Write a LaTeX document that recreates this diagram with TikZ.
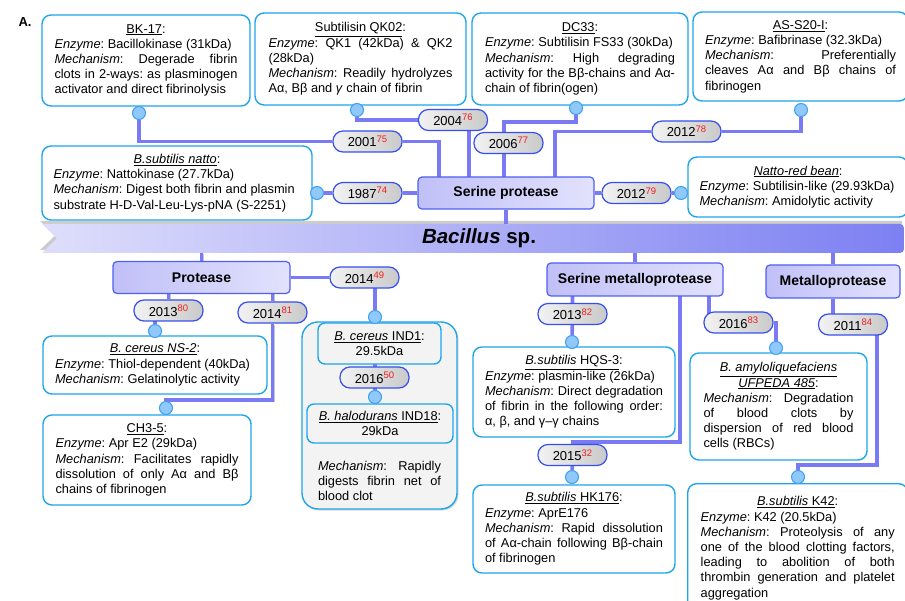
\documentclass[tikz,border=0pt]{standalone}
\usepackage{fontspec}
\setmainfont{Liberation Sans}
\usetikzlibrary{shadows}
\setlength{\parindent}{0pt}
\frenchspacing

\definecolor{boxcyan}{RGB}{30,165,235}
\definecolor{linkblue}{RGB}{122,122,244}
\definecolor{yearrim}{RGB}{55,80,235}
\definecolor{grouprim}{RGB}{80,95,240}
\definecolor{groupA}{RGB}{192,192,248}
\definecolor{groupB}{RGB}{226,226,253}
\definecolor{dotfill}{RGB}{145,200,250}
\definecolor{dotrim}{RGB}{60,160,240}
\definecolor{bandA}{RGB}{222,222,251}
\definecolor{bandB}{RGB}{125,128,242}
\definecolor{potgray}{RGB}{243,243,243}
\definecolor{refred}{RGB}{240,30,30}

\pgfdeclarelayer{bg}
\pgfdeclarelayer{wires}
\pgfsetlayers{bg,wires,main}

% one line of a box: centred title, stretched line, plain line
\newcommand{\wsp}{\spaceskip=.278em\xspaceskip=.278em\relax}
\newcommand{\ttl}[1]{\makebox[\hsize]{\wsp #1}}
\newcommand{\jst}[1]{\makebox[\hsize][s]{\spaceskip=.278em plus 1fil\xspaceskip=\spaceskip #1}}
\newcommand{\lft}[1]{\makebox[\hsize][l]{\wsp #1}}
\newcommand{\yr}[2]{#1\raisebox{4.5pt}{\fontsize{9.5}{9.5}\selectfont\textcolor{refred}{#2}}}

\begin{document}
\begin{tikzpicture}[x=1pt, y=-1pt,
  info/.style={draw=boxcyan, line width=1.4pt, rounded corners=9pt, fill=white,
    inner sep=3pt, align=left, font=\fontsize{12.8}{15.2}\selectfont},
  group/.style={draw=grouprim, line width=1.2pt, rounded corners=4pt,
    left color=groupA, right color=groupB, inner sep=0pt,
    font=\bfseries\fontsize{14}{14}\selectfont},
  year/.style={draw=yearrim, line width=1.2pt, rounded corners=10pt,
    left color=gray!10, right color=gray!42, minimum width=69pt,
    minimum height=21pt, inner sep=0pt, font=\fontsize{13}{13}\selectfont},
  dot/.style={circle, draw=dotrim, fill=dotfill, line width=1pt,
    minimum size=13pt, inner sep=0pt},
  link/.style={draw=linkblue, line width=3.6pt,
    preaction={draw=gray!45, transform canvas={shift={(1.2pt,-1.2pt)}}}}]
\useasboundingbox (0,0) rectangle (905,601);
\clip (0,0) rectangle (905,601);

\begin{pgfonlayer}{bg}
% Bacillus band
\fill[gray!40] (40,221) -- (902,221) -- (902,250) -- (40,250) -- (55,235.5) -- cycle;
\shade[left color=bandA, right color=bandB] (42,224) [rounded corners=4pt] -- (904,224)
  -- (904,253) [sharp corners] -- (42,253) -- (57,238.5) -- cycle;
\node[minimum width=862pt, minimum height=29pt, inner sep=0pt] (band) at (473,238.5) {};
% IND1 / IND18 box
\node[draw=boxcyan, line width=1.4pt, rounded corners=16pt, fill=potgray,
  minimum width=155pt, minimum height=187pt,
  drop shadow={opacity=0.3, shadow xshift=1.5pt, shadow yshift=-1.5pt}] (pot) at (379.5,415.5) {};
\end{pgfonlayer}

\node[font=\bfseries\fontsize{13}{13}\selectfont] (lbl) at (25,22) {A.};
\node[font=\bfseries\fontsize{20.5}{20.5}\selectfont] (bac) at (479,238) {\textit{Bacillus} sp.};

% upper boxes
\node[info, text width=183pt, minimum width=208pt, minimum height=91pt] (bk17) at (146,60.5) {
  \ttl{\underline{BK-17}:}\\
  \lft{\emph{Enzyme}: Bacillokinase (31kDa)}\\
  \jst{\emph{Mechanism}: Degerade fibrin}\\
  \jst{clots in 2-ways: as plasminogen}\\
  \lft{activator and direct fibrinolysis}};
\node[info, text width=184pt, minimum width=211pt, minimum height=92pt] (qk02) at (360.5,59) {
  \ttl{\underline{Subtilisin QK02}:}\\
  \jst{\emph{Enzyme}: QK1 (42kDa) \& QK2}\\
  \lft{(28kDa)}\\
  \jst{\emph{Mechanism}: Readily hydrolyzes}\\
  \lft{Aα, Bβ and \emph{γ} chain of fibrin}};
\node[info, text width=190pt, minimum width=216pt, minimum height=92pt] (dc33) at (580,59) {
  \ttl{\underline{DC33}:}\\
  \lft{\emph{Enzyme}: Subtilisin FS33 (30kDa)}\\
  \jst{\emph{Mechanism}: High degrading}\\
  \jst{activity for the Bβ-chains and Aα-}\\
  \lft{chain of fibrin(ogen)}};
\node[info, text width=191pt, minimum width=215pt, minimum height=89pt] (as20) at (800.5,56.5) {
  \ttl{\underline{AS-S20-I}:}\\
  \lft{\emph{Enzyme}: Bafibrinase (32.3kDa)}\\
  \jst{\emph{Mechanism}: Preferentially}\\
  \jst{cleaves Aα and Bβ chains of}\\
  \lft{fibrinogen}};
\node[info, text width=247pt, minimum width=270pt, minimum height=74pt] (natto) at (177,183) {
  \ttl{\underline{\emph{B.subtilis natto}}:}\\
  \lft{\emph{Enzyme}: Nattokinase (27.7kDa)}\\
  \lft{\emph{Mechanism}: Digest both fibrin and plasmin}\\
  \lft{substrate H-D-Val-Leu-Lys-pNA (S-2251)}};
\node[info, text width=197pt, minimum width=220pt, minimum height=60pt] (redbean) at (798,187) {
  \ttl{\underline{\emph{Natto-red bean}}:}\\
  \lft{\emph{Enzyme}: Subtilisin-like (29.93kDa)}\\
  \lft{\emph{Mechanism}: Amidolytic activity}};

% lower boxes
\node[info, text width=200pt, minimum width=224pt, minimum height=58pt] (ns2) at (155,365) {
  \ttl{\underline{\emph{B. cereus NS-2}}:}\\
  \lft{\emph{Enzyme}: Thiol-dependent (40kDa)}\\
  \lft{\emph{Mechanism}: Gelatinolytic activity}};
\node[info, text width=183pt, minimum width=208pt, minimum height=90pt] (ch35) at (147,460) {
  \ttl{\underline{CH3-5}:}\\
  \lft{\emph{Enzyme}: Apr E2 (29kDa)}\\
  \jst{\emph{Mechanism}: Facilitates rapidly}\\
  \jst{dissolution of only Aα and Bβ}\\
  \lft{chains of fibrinogen}};
\node[info, fill=potgray, rounded corners=7pt, text width=117pt, minimum width=123pt, minimum height=41pt] (ind1) at (379.5,343.5) {
  \ttl{\underline{\emph{B. cereus} IND1}:}\\
  \ttl{29.5kDa}};
\node[info, fill=potgray, rounded corners=7pt, text width=140pt, minimum width=146pt, minimum height=39pt] (ind18) at (380,423.5) {
  \ttl{\underline{\emph{B. halodurans} IND18}:}\\
  \ttl{29kDa}};
\node[info, draw=none, fill=none, text width=123pt] (indmech) at (379.5,481) {
  \jst{\emph{Mechanism}: Rapidly}\\
  \jst{digests fibrin net of}\\
  \lft{blood clot}};
\node[info, text width=178pt, minimum width=202pt, minimum height=90pt] (hqs3) at (574,392) {
  \ttl{\underline{\emph{B.subtilis} HQS-3}:}\\
  \lft{\emph{Enzyme}: plasmin-like (26kDa)}\\
  \jst{\emph{Mechanism}: Direct degradation}\\
  \jst{of fibrin in the following order:}\\
  \lft{α, β, and γ–γ chains}};
\node[info, text width=178pt, minimum width=202pt, minimum height=88pt] (hk176) at (574,529) {
  \ttl{\underline{\emph{B.subtilis} HK176}:}\\
  \lft{\emph{Enzyme}: AprE176}\\
  \jst{\emph{Mechanism}: Rapid dissolution}\\
  \jst{of Aα-chain following Bβ-chain}\\
  \lft{of fibrinogen}};
\node[info, text width=150pt, minimum width=177pt, minimum height=107pt] (amylo) at (778.5,406.5) {
  \ttl{\underline{\emph{B. amyloliquefaciens}}}\\
  \ttl{\underline{\emph{UFPEDA 485}}:}\\
  \jst{\emph{Mechanism}: Degradation}\\
  \jst{of blood clots by}\\
  \jst{dispersion of red blood}\\
  \lft{cells (RBCs)}};
\node[info, text width=194pt, inner xsep=13pt, inner ysep=13pt, anchor=north west] (k42) at (687,483) {
  \ttl{\underline{\emph{B.subtilis} K42}:}\\
  \lft{\emph{Enzyme}: K42 (20.5kDa)}\\
  \jst{\emph{Mechanism}: Proteolysis of any}\\
  \jst{one of the blood clotting factors,}\\
  \jst{leading to abolition of both}\\
  \jst{thrombin generation and platelet}\\
  \lft{aggregation}};

% groups
\node[group, minimum width=176pt, minimum height=32pt] (serp) at (506,193) {Serine protease};
\node[group, minimum width=177pt, minimum height=32pt] (prot) at (201.5,277.5) {Protease};
\node[group, minimum width=176pt, minimum height=33pt] (smp) at (635,279.5) {Serine metalloprotease};
\node[group, minimum width=134pt, minimum height=33pt] (metp) at (833,281.5) {Metalloprotease};

% years
\node[year] (y76) at (453,120) {\yr{2004}{76}};
\node[year] (y75) at (367.5,141.5) {\yr{2001}{75}};
\node[year] (y77) at (508.5,143) {\yr{2006}{77}};
\node[year] (y74) at (367.5,193) {\yr{1987}{74}};
\node[year] (y78) at (686.5,131.5) {\yr{2012}{78}};
\node[year] (y79) at (636.5,193) {\yr{2012}{79}};
\node[year] (y49) at (364.5,277.5) {\yr{2014}{49}};
\node[year] (y80) at (168.5,310.5) {\yr{2013}{80}};
\node[year] (y81) at (272.5,312.5) {\yr{2014}{81}};
\node[year] (y50) at (374.5,377.5) {\yr{2016}{50}};
\node[year] (y82) at (572.5,314) {\yr{2013}{82}};
\node[year] (y32) at (572.5,455) {\yr{2015}{32}};
\node[year] (y83) at (738.5,322.5) {\yr{2016}{83}};
\node[year] (y84) at (853,324.5) {\yr{2011}{84}};

% dots
\node[dot] (d1) at (139,113) {};
\node[dot] (d2) at (357,110) {};
\node[dot] (d3) at (576,108) {};
\node[dot] (d4) at (801,110) {};
\node[dot] (d5) at (317,193) {};
\node[dot] (d6) at (681,193) {};
\node[dot] (d49) at (375,317) {};
\node[dot] (d80) at (155,331) {};
\node[dot] (d81) at (166,408) {};
\node[dot] (d50) at (375,397) {};
\node[dot] (d82) at (572,342) {};
\node[dot] (d32) at (572,477) {};
\node[dot] (d83) at (776,348) {};
\node[dot] (d84) at (798,477) {};

\begin{pgfonlayer}{wires}
\coordinate (j75) at (439,193);
\coordinate (j76) at (469,193);
\coordinate (j77) at (504,122);
\coordinate (j78) at (555,193);
\coordinate (j81) at (272.5,400);
\coordinate (j32) at (680,442);
\coordinate (j83) at (709,322.5);
\coordinate (j84) at (877,465);
% serine protease
\draw[link] (d1) |- (y75);
\draw[link] (y75) -| (j75);
\draw[link] (d2) |- (y76);
\draw[link] (j76 |- y76) -- (j76);
\draw[link] (d3) |- (j77) -- (j77 |- serp);
\draw[link] (d4) |- (y78);
\draw[link] (y78) -| (j78);
\draw[link] (d5) -- (y74) -- (serp);
\draw[link] (serp) -- (y79) -- (d6);
\draw[link] (serp.south) -- (serp.south |- band.north);
% protease
\draw[link] (prot.north) -- (prot.north |- band.south);
\draw[link] (prot) -- (y49);
\draw[link] (y49 -| d49) -- (d49);
\draw[link] (prot -| y80) -- (y80);
\draw[link] (y80 -| d80) -- (d80);
\draw[link] (prot -| y81) -- (y81);
\draw[link] (y81) -- (j81) -| (d81);
\draw[link] (ind1 -| d50) -- (d50);
\draw[link] (d50) -- (d50 |- ind18);
% serine metalloprotease
\draw[link] (smp.north) -- (smp.north |- band.south);
\draw[link] (smp -| y82) -- (y82) -- (d82);
\draw[link] (smp -| j32) -- (j32) -| (y32);
\draw[link] (y32) -- (d32);
\draw[link] (smp -| j83) -- (j83);
\draw[link] (y83) -| (d83);
% metalloprotease
\draw[link] (metp.north) -- (metp.north |- band.south);
\draw[link] (metp) -- (metp |- y84);
\draw[link] (y84 -| j84) -- (j84) -| (d84);
\end{pgfonlayer}
\end{tikzpicture}
\end{document}
